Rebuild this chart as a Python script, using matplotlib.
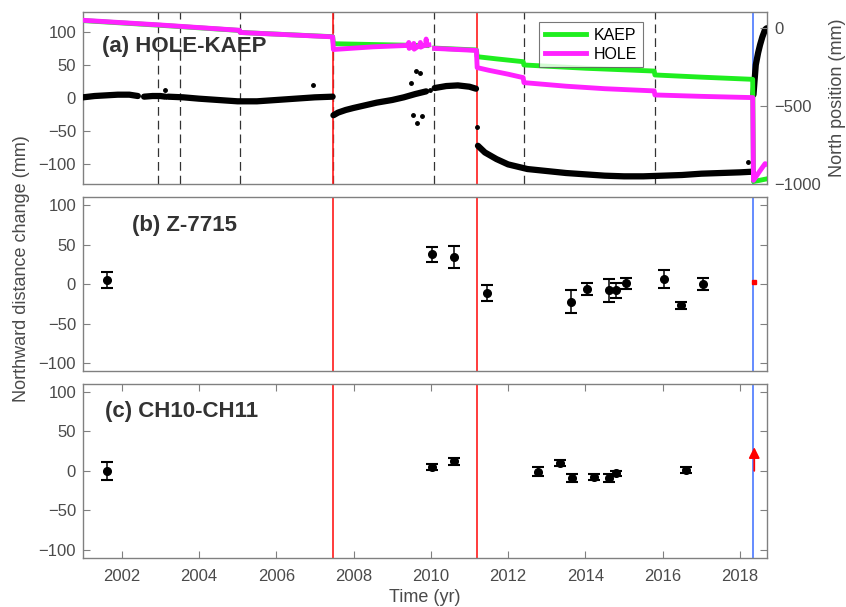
import numpy as np
import matplotlib
matplotlib.use("Agg")
import matplotlib.pyplot as plt

plt.rcParams['font.family'] = ['Liberation Sans', 'DejaVu Sans']

# ---------------- data ----------------
# event times
quake_red = [2007.47, 2011.19]
quake_blue = 2018.34
antenna_dashed = [2002.95, 2003.51, 2005.06, 2007.47, 2010.08, 2012.40, 2015.79]

# (a) HOLE-KAEP distance change (mm), NaN = gap
ab_t = [2001.0, 2001.3, 2001.6, 2001.9, 2002.2, 2002.42, np.nan,
        2002.58, 2002.8, 2003.0, 2003.13, np.nan,
        2003.2, 2003.6, 2004.0, 2004.5, 2005.0, 2005.5, 2006.0, 2006.5, 2007.0, 2007.46, np.nan,
        2007.48, 2007.6, 2007.8, 2008.0, 2008.3, 2008.6, 2009.0, 2009.3, 2009.6, 2009.88, np.nan,
        2010.1, 2010.4, 2010.7, 2011.0, 2011.17, np.nan,
        2011.22, 2011.4, 2011.7, 2012.0, 2012.5, 2013.0, 2013.5, 2014.0, 2014.5, 2015.0,
        2015.5, 2016.0, 2016.5, 2017.0, 2017.5, 2018.0, 2018.33, np.nan,
        2018.35, 2018.41, 2018.47, 2018.52, 2018.58, 2018.65, 2018.69]
ab_v = [1, 3, 4, 5, 5, 3, np.nan,
        2, 3, 3, 2, np.nan,
        2, 1, -1, -3, -5, -5, -3, -1, 1, 2, np.nan,
        -26, -22, -18, -15, -11, -7, -3, 1, 6, 10, np.nan,
        15, 18, 19, 17, 14, np.nan,
        -72, -82, -92, -100, -107, -110, -113, -115, -117, -118,
        -118, -117, -116, -114, -113, -112, -111, np.nan,
        5, 50, 68, 80, 92, 103, 105]
# isolated outlier points in (a)
ab_out_t = [2006.95, 2003.11, 2009.50, 2009.55, 2009.62, 2009.65, 2009.72, 2009.78, 2009.99, 2011.19, 2018.2]
ab_out_v = [20, 12, 22, -25, 40, -37, 38, -27, 12, -43, -97]

# KAEP north position (mm)
kaep_t = [2001.0, 2003.0, 2005.05, 2005.07, 2007.46, 2007.48, 2009.9, np.nan,
          2010.1, 2011.18, 2011.20, 2011.7, 2012.39, 2012.41, 2014.0, 2015.78, 2015.80,
          2017.0, 2018.33, 2018.35, 2018.50, 2018.70]
kaep_v = [48, 18, -15, -28, -55, -100, -112, np.nan,
          -128, -140, -183, -197, -215, -236, -257, -275, -300,
          -314, -328, -982, -975, -965]
# HOLE north position (mm)
hole_t = [2001.0, 2003.0, 2005.05, 2005.07, 2007.46, 2007.48, 2008.5, 2009.3,
          2009.42, 2009.43, 2009.44, 2009.55, 2009.56, 2009.57, 2009.72, 2009.73, 2009.74,
          2009.87, 2009.88, 2009.89, 2009.95, np.nan,
          2010.1, 2011.18, 2011.20, 2011.5, 2012.0, 2012.39, 2012.41, 2013.5, 2014.5,
          2015.78, 2015.80, 2017.0, 2018.33, 2018.35, 2018.50, 2018.65, 2018.70]
hole_v = [50, 20, -14, -28, -56, -137, -120, -112,
          -110, -92, -130, -111, -98, -135, -108, -92, -122,
          -106, -70, -110, -108, np.nan,
          -130, -143, -253, -270, -295, -317, -349, -372, -388,
          -402, -428, -437, -445, -975, -920, -868, -872]

# (b) Z-7715
zb_t = [2001.62, 2010.03, 2010.60, 2011.45, 2013.63, 2014.05, 2014.61, 2014.78, 2015.06, 2016.04, 2016.47, 2017.04]
zb_v = [5, 38, 34, -11, -22, -6, -8, -8, 1, 6, -27, 0]
zb_e = [10, 9.5, 14, 10.5, 14, 7.5, 14, 9.5, 7, 11.5, 5, 7.5]
zb_red_t, zb_red_v = 2018.37, 2.5

# (c) CH10-CH11
zc_t = [2001.62, 2010.03, 2010.60, 2012.77, 2013.35, 2013.65, 2014.23, 2014.61, 2014.78, 2016.61]
zc_v = [0, 5, 12, -1, 10, -9, -8, -9, -3, 1]
zc_e = [11, 4, 4, 6, 4, 5, 3.5, 5, 3, 4]
zc_arrow_t, zc_arrow_v0, zc_arrow_v1 = 2018.37, 0, 30

xticks = [2002, 2004, 2006, 2008, 2010, 2012, 2014, 2016, 2018]

# ---------------- figure ----------------
W, H = 846, 607
fig = plt.figure(figsize=(W / 100, H / 100), dpi=100)

spine_c = '#808080'
lab_c = '#4a4a4a'
left = 83 / W
width = (767 - 83) / W

def pos(top, bot):
    return [left, 1 - bot / H, width, (bot - top) / H]

axa = fig.add_axes(pos(11.7, 184.3))
axb = fig.add_axes(pos(197.3, 371))
axc = fig.add_axes(pos(384, 557.7))

def style(ax, xt=True, right=True):
    for s in ax.spines.values():
        s.set_color(spine_c)
        s.set_linewidth(1.0)
    ax.tick_params(axis='both', direction='in', colors=spine_c, labelcolor=lab_c,
                   labelsize=12, length=5, width=0.8)
    ax.tick_params(axis='y', pad=5, right=right)
    ax.tick_params(axis='x', pad=8)
    ax.set_xlim(2001.0, 2018.70)
    ax.set_xticks(xticks)
    if not xt:
        ax.tick_params(axis='x', bottom=False, top=False, labelbottom=False)
    else:
        ax.tick_params(axis='x', top=True)

# ---- panel a ----
style(axa, xt=False, right=False)
axa.set_ylim(-130, 130)
axa.set_yticks([-100, -50, 0, 50, 100])
for t in antenna_dashed:
    axa.axvline(t, color='#333333', lw=0.9, dashes=(7, 4), zorder=1)
axa.plot(ab_t, ab_v, '-', color='k', lw=4.5, solid_capstyle='round', zorder=3)
axa.plot(ab_out_t, ab_out_v, 'o', color='k', ms=2.5, zorder=3)
axa.text(0.028, 0.80, '(a) HOLE-KAEP', transform=axa.transAxes, fontsize=16,
         fontweight='bold', color='#333333', va='center', ha='left', zorder=6)

axr = axa.twinx()
axr.set_ylim(-1000, 105)
axr.set_yticks([-1000, -500, 0])
for s in axr.spines.values():
    s.set_visible(False)
axr.tick_params(axis='y', direction='in', colors=spine_c, labelcolor=lab_c,
                labelsize=12, length=5, width=0.8, pad=5)
axr.plot(kaep_t, kaep_v, '-', color='#1fee1f', lw=3.5, label='KAEP', zorder=2)
axr.plot(hole_t, hole_v, '-', color='#ff22ff', lw=3.5, label='HOLE', zorder=2)
axr.set_ylabel('North position (mm)', fontsize=13, color=lab_c, labelpad=6)
leg = axr.legend(loc='upper left', bbox_to_anchor=(0.655, 0.985), fontsize=11.5,
                 frameon=True, fancybox=False, edgecolor='#555555', handlelength=2.6,
                 borderpad=0.35, labelspacing=0.25, handletextpad=0.5)
leg.get_frame().set_linewidth(0.8)

# ---- panel b ----
style(axb, xt=False)
axb.set_ylim(-110, 110)
axb.set_yticks([-100, -50, 0, 50, 100])
axb.errorbar(zb_t, zb_v, yerr=zb_e, fmt='o', color='k', ms=5.5, capsize=4,
             elinewidth=1.1, capthick=1.5, zorder=4)
axb.plot([zb_red_t], [zb_red_v], 's', color='#ff0000', ms=3, zorder=4)
axb.text(0.072, 0.84, '(b) Z-7715', transform=axb.transAxes, fontsize=16,
         fontweight='bold', color='#333333', va='center', ha='left')

# ---- panel c ----
style(axc, xt=True)
axc.set_ylim(-110, 110)
axc.set_yticks([-100, -50, 0, 50, 100])
axc.errorbar(zc_t, zc_v, yerr=zc_e, fmt='o', color='k', ms=5.5, capsize=4,
             elinewidth=1.1, capthick=1.5, zorder=4)
axc.annotate('', xy=(zc_arrow_t, zc_arrow_v1), xytext=(zc_arrow_t, zc_arrow_v0),
             arrowprops=dict(arrowstyle='-|>', color='#ff0000', lw=1.3,
                             mutation_scale=16, shrinkA=0, shrinkB=0), zorder=5)
axc.text(0.032, 0.84, '(c) CH10-CH11', transform=axc.transAxes, fontsize=16,
         fontweight='bold', color='#333333', va='center', ha='left')
axc.set_xlabel('Time (yr)', fontsize=13, color=lab_c, labelpad=4)

# event lines in all panels
for ax in (axa, axb, axc):
    for t in quake_red:
        ax.axvline(t, color='#ff1a1a', lw=1.2, zorder=2.5)
    ax.axvline(quake_blue, color='#3a6cff', lw=1.1, zorder=2.5)

fig.text(22 / W, 1 - 269 / H, 'Northward distance change (mm)', rotation=90,
         fontsize=13, color=lab_c, ha='center', va='center')

fig.savefig('out.png', dpi=100)
